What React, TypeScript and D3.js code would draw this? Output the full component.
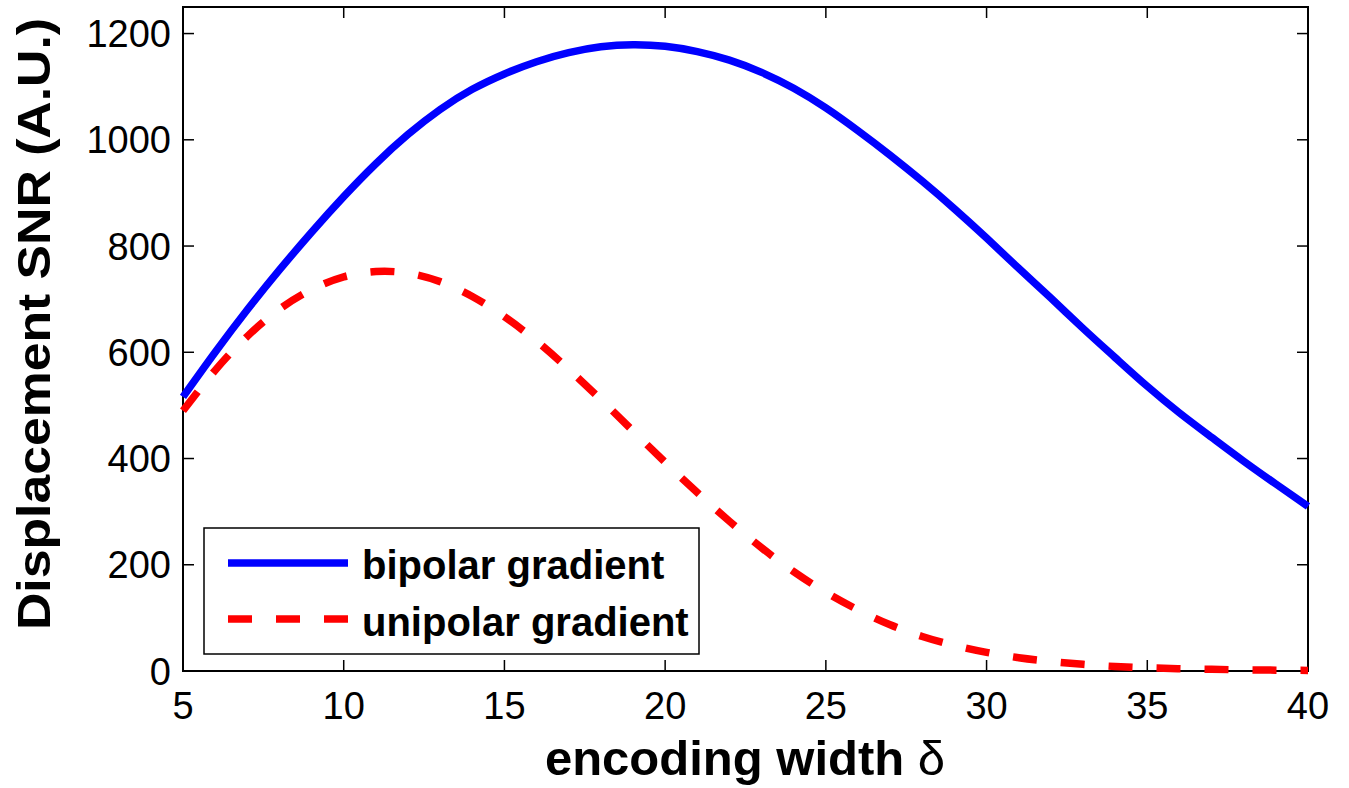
import React, { useEffect, useRef } from "react";
import * as d3 from "d3";

// encoding width (delta) sample points
const delta = [5, 6, 7, 8, 9, 10, 11, 12, 13, 14, 15, 16, 17, 18, 19, 20, 21, 22,
  23, 24, 25, 26, 27, 28, 29, 30, 31, 32, 33, 34, 35, 36, 37, 38, 39, 40];

const bipolar = [516, 600, 680, 755, 826, 893, 955, 1010, 1057, 1095, 1124, 1147, 1164,
  1175, 1179, 1176, 1166, 1150, 1127, 1097, 1060, 1017, 971, 922, 870, 815, 758, 702,
  645, 590, 536, 486, 440, 395, 352, 310];

const unipolar = [490, 566, 630, 681, 718, 742, 752, 749, 733, 705, 667, 621, 568, 511,
  452, 393, 336, 282, 232, 187, 148, 115, 87, 65, 48, 35, 25, 18, 12.5, 8.5, 6, 4.3, 3.1,
  2.2, 1.6, 1.1];

const xTicks = [5, 10, 15, 20, 25, 30, 35, 40];
const yTicks = [0, 200, 400, 600, 800, 1000, 1200];

const legendLabels = ["bipolar gradient", "unipolar gradient"];

const FONT = "'Liberation Sans', Arial, Helvetica, sans-serif";

export default function App() {
  const ref = useRef<SVGSVGElement>(null);

  useEffect(() => {
    const svg = d3.select(ref.current);
    svg.selectAll("*").remove();

    const left = 183, right = 1308, top = 7, bottom = 671;
    const x = d3.scaleLinear().domain([5, 40]).range([left, right]);
    const y = d3.scaleLinear().domain([0, 1250]).range([bottom, top]);

    svg.append("rect")
      .attr("width", 1349).attr("height", 788)
      .style("fill", "#ffffff");

    // ticks (inward, on all four sides)
    const tk = 11;
    xTicks.forEach((t) => {
      svg.append("line")
        .attr("x1", x(t)).attr("x2", x(t))
        .attr("y1", bottom).attr("y2", bottom - tk)
        .style("stroke", "#000").style("stroke-width", 1.5);
      svg.append("line")
        .attr("x1", x(t)).attr("x2", x(t))
        .attr("y1", top).attr("y2", top + tk)
        .style("stroke", "#000").style("stroke-width", 1.5);
      svg.append("text")
        .attr("x", x(t)).attr("y", 719)
        .attr("text-anchor", "middle")
        .style("font-family", FONT).style("font-size", "38px")
        .text(t);
    });
    yTicks.forEach((t) => {
      svg.append("line")
        .attr("x1", left).attr("x2", left + tk)
        .attr("y1", y(t)).attr("y2", y(t))
        .style("stroke", "#000").style("stroke-width", 1.5);
      svg.append("line")
        .attr("x1", right).attr("x2", right - tk)
        .attr("y1", y(t)).attr("y2", y(t))
        .style("stroke", "#000").style("stroke-width", 1.5);
      svg.append("text")
        .attr("x", 171).attr("y", y(t))
        .attr("dy", "0.36em")
        .attr("text-anchor", "end")
        .style("font-family", FONT).style("font-size", "38px")
        .text(t);
    });

    // box
    svg.append("rect")
      .attr("x", left).attr("y", top)
      .attr("width", right - left).attr("height", bottom - top)
      .style("fill", "none").style("stroke", "#000").style("stroke-width", 2);

    const line = (vals: number[]) =>
      d3.line<number>()
        .x((_, i) => x(delta[i]))
        .y((d) => y(d))
        .curve(d3.curveNatural)(vals);

    svg.append("path")
      .attr("d", line(bipolar))
      .style("fill", "none").style("stroke", "#0000ff")
      .style("stroke-width", 7.5);

    svg.append("path")
      .attr("d", line(unipolar))
      .style("fill", "none").style("stroke", "#ff0000")
      .style("stroke-width", 7.5)
      .style("stroke-dasharray", "24,24");

    // legend
    const lg = svg.append("g");
    lg.append("rect")
      .attr("x", 204).attr("y", 528).attr("width", 495).attr("height", 126)
      .style("fill", "#fff").style("stroke", "#000").style("stroke-width", 1.5);
    const rows = [
      { label: legendLabels[0], color: "#0000ff", dash: null, ly: 563, ty: 579 },
      { label: legendLabels[1], color: "#ff0000", dash: "24,24", ly: 619, ty: 636 },
    ];
    rows.forEach((r) => {
      lg.append("line")
        .attr("x1", 228).attr("x2", 348).attr("y1", r.ly).attr("y2", r.ly)
        .style("stroke", r.color).style("stroke-width", 7.5)
        .style("stroke-dasharray", r.dash);
      lg.append("text")
        .attr("x", 362).attr("y", r.ty)
        .style("font-family", FONT).style("font-size", "40px").style("font-weight", "bold")
        .text(r.label);
    });

    // axis labels
    const xl = svg.append("text")
      .attr("x", 745).attr("y", 775)
      .attr("text-anchor", "middle")
      .style("font-family", FONT).style("font-size", "49px").style("font-weight", "bold");
    xl.append("tspan").text("encoding width ");
    xl.append("tspan").style("font-weight", "normal").text("δ");

    svg.append("text")
      .attr("transform", "translate(50,324) rotate(-90)")
      .attr("text-anchor", "middle")
      .attr("textLength", 612)
      .attr("lengthAdjust", "spacingAndGlyphs")
      .style("font-family", FONT).style("font-size", "47px").style("font-weight", "bold")
      .text("Displacement SNR (A.U.)");
  }, []);

  return (
    <svg ref={ref} width={1349} height={788}
      style={{ position: "absolute", left: 0, top: 0 }}></svg>
  );
}
